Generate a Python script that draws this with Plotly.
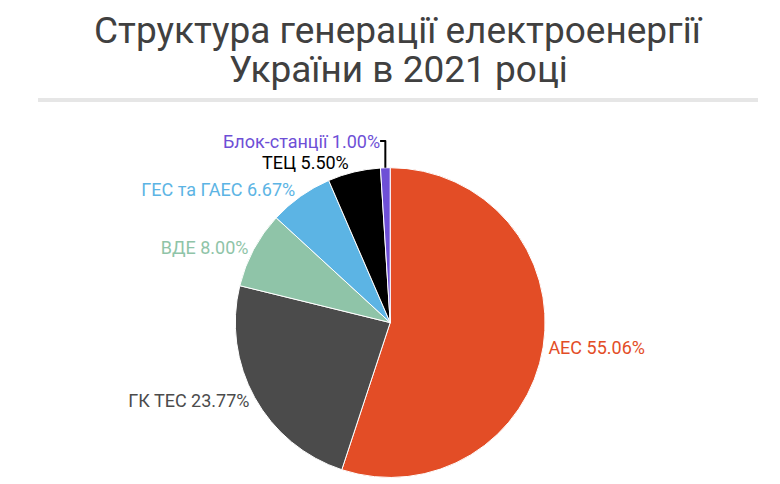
import plotly.graph_objects as go

# Electricity generation structure, Ukraine 2021
labels = ['АЕС', 'ГК ТЕС', 'ВДЕ', 'ГЕС та ГАЕС', 'ТЕЦ', 'Блок-станції']
shares = [55.06, 23.77, 8.00, 6.67, 5.50, 1.00]
colors = ['#e34d26', '#4b4b4b', '#8fc4a8', '#5cb4e4', '#000000', '#6e4fd6']
title_lines = ['Структура генерації електроенергії', 'України в 2021 році']

fig = go.Figure()
fig.add_trace(go.Pie(
    labels=labels,
    values=shares,
    sort=False,
    direction='clockwise',
    rotation=0,
    marker=dict(colors=colors, line=dict(color='white', width=1)),
    textposition='outside',
    texttemplate='%{label} %{percent:.2%}',
    textfont=dict(family='Roboto', size=18, color=colors),
    showlegend=False,
    hoverinfo='label+percent',
    domain=dict(x=[0.29, 0.69], y=[0.03, 0.67]),
))

fig.add_shape(type='line', xref='paper', yref='paper',
              x0=30 / 780, x1=750 / 780, y0=1 - 92 / 484, y1=1 - 92 / 484,
              line=dict(color='#e6e6e6', width=4))

# title as two lines so spacing can follow the original
for i, line in enumerate(title_lines):
    fig.add_annotation(
        text=line, xref='paper', yref='paper',
        x=0.5, y=1 - (39 * i) / 484,
        xanchor='center', yanchor='top', showarrow=False,
        borderpad=0,
        font=dict(family='Roboto', size=37, color='#404040'),
    )

fig.update_layout(
    width=780, height=484,
    margin=dict(l=0, r=0, t=0, b=0),
    paper_bgcolor='white',
)

fig.write_html('out.html')
